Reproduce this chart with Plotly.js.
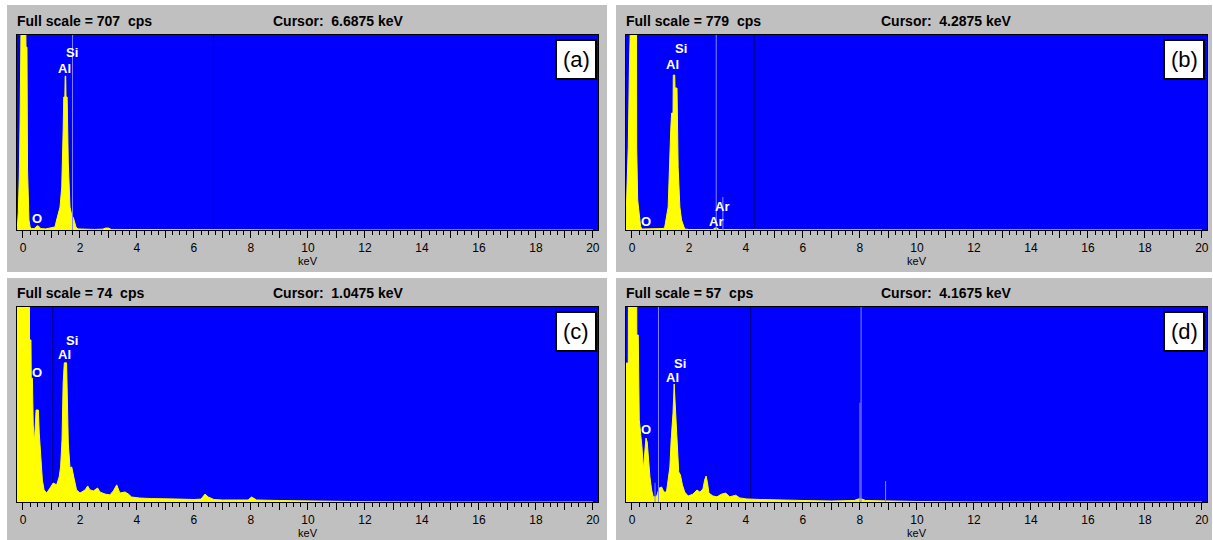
<!DOCTYPE html>
<html><head><meta charset="utf-8">
<script src="https://cdn.plot.ly/plotly-3.0.1.min.js"></script>
<style>html,body{margin:0;padding:0;background:#fff}#chart{width:1213px;height:540px}</style>
</head><body><div id="chart"></div>
<script>
// ---------- DATA ----------
const panelLetters = ['(a)', '(b)', '(c)', '(d)'];
const fullScale = [707, 779, 74, 57];          // cps
const cursorKeV = [6.6875, 4.2875, 1.0475, 4.1675];

const tickValues = [0,1,2,3,4,5,6,7,8,9,10,11,12,13,14,15,16,17,18,19,20];
const tickText   = ['0','','2','','4','','6','','8','','10','','12','','14','','16','','18','','20'];

// spectrum (a)
const energyA = [-0.21,-0.2,-0.165,-0.13,-0.1,-0.07,0.1,0.105,0.14,0.16,0.21,0.25,0.3,0.4,0.45,0.5,0.56,0.62,0.8,0.95,1.12,1.2,1.3,1.36,1.39,1.41,1.43,1.47,1.48,1.5,1.51,1.55,1.59,1.65,1.71,1.77,1.86,1.93,2.5,2.8,2.9,3.0,3.1,4.0,6.0,10.0,20.0];
const countsA = [0,7,62,192,410,725,725,663,663,218,36,11,5,5,11,15,13,5,4,6,11,44,83,156,243,363,482,482,558,558,482,482,243,83,54,44,11,4,2,3,7,7,2,1,1,0,0];
// spectrum (b)
const energyB = [-0.23,-0.22,-0.185,-0.13,-0.09,-0.06,0.16,0.165,0.2,0.25,0.3,0.34,0.5,0.8,1.0,1.095,1.15,1.27,1.36,1.39,1.44,1.45,1.5,1.51,1.58,1.62,1.68,1.74,1.85,2.0,2.85,2.9,3.0,3.05,4.0,10.0,20.0];
const countsB = [0,4,132,332,647,800,800,332,120,68,16,4,4,3,4,6,12,92,400,467,467,619,619,567,567,250,92,40,4,2,2,8,8,2,1,0,0];
// spectrum (c)
const energyC = [-0.21,0.22,0.23,0.28,0.29,0.33,0.36,0.4,0.46,0.54,0.57,0.62,0.68,0.74,0.83,0.95,1.06,1.18,1.27,1.32,1.37,1.41,1.45,1.53,1.54,1.59,1.65,1.71,1.79,1.88,2.0,2.18,2.27,2.35,2.47,2.62,2.7,2.88,3.05,3.17,3.29,3.4,3.58,3.7,3.81,4.1,4.5,5.0,5.5,6.0,6.25,6.39,6.5,6.7,7.0,7.5,7.9,8.02,8.2,9.0,10.0,11.0,12.0,14.0,20.0];
const countsC = [100,100,61.5,61.5,47,47,29.2,22.4,34.9,34.9,26.2,17.1,8.3,4.6,3.4,5.3,7.2,6.5,9.5,13.3,23.5,45.2,52.8,52.8,45.2,22.4,12.9,13.3,9.1,4.6,3.4,4.6,6.1,4.6,4.2,5.3,3.8,3.0,2.7,4.2,6.5,3.4,3.8,3.0,1.9,1.5,1.3,1.3,1.1,0.95,1.1,3.0,1.9,0.95,0.76,0.76,0.76,1.9,0.76,0.57,0.38,0.19,0.11,0,0];
// spectrum (d)
const energyD = [-0.21,-0.13,-0.125,0.165,0.17,0.22,0.255,0.3,0.35,0.4,0.44,0.49,0.535,0.58,0.63,0.69,0.745,0.86,0.955,1.04,1.12,1.21,1.28,1.33,1.375,1.44,1.48,1.53,1.56,1.6,1.64,1.7,1.77,1.85,1.97,2.14,2.28,2.38,2.49,2.55,2.6,2.65,2.7,2.84,2.98,3.14,3.29,3.43,3.64,3.78,4.01,4.5,5.0,6.0,7.0,7.8,7.95,8.05,8.2,9.0,10.0,12.0,20.0];
const countsD = [40.6,40.6,60,60,48.8,48.8,24,20.2,16.1,9.4,15.2,18.7,17.5,12.3,7.3,3.5,1.5,1.5,4.1,4.4,2.9,2.9,6.4,10.2,18.1,26,34.5,26,24,15.2,8.8,7.9,5.0,2.9,1.75,2.3,3.5,2.9,3.8,6.4,7.6,5.6,2.6,1.75,1.5,2.3,2.6,1.5,2.0,1.2,0.9,0.73,0.58,0.44,0.29,0.44,0.9,0.9,0.44,0.29,0.15,0,0];

// KLM marker lines (keV, height in cps)
const klmEnergyA = [1.74];               const klmHeightA = [707];
const klmEnergyB = [2.957, 3.19];        const klmHeightB = [779, 132];
const klmEnergyC = [];                   const klmHeightC = [];
const klmEnergyD = [0.81, 0.93, 8.0, 8.04, 8.9]; const klmHeightD = [5.6, 57, 29, 57, 6.1];

// element labels
const labelTextA = ['Si','Al','O'];           const labelKeVA = [1.72,1.44,0.49];           const labelCpsA = [642,587,43];
const labelTextB = ['Si','Al','O','Ar','Ar']; const labelKeVB = [1.71,1.43,0.49,3.15,2.94]; const labelCpsB = [727,663,32,92,32];
const labelTextC = ['Si','Al','O'];           const labelKeVC = [1.72,1.44,0.49];           const labelCpsC = [61.1,55.8,49];
const labelTextD = ['Si','Al','O'];           const labelKeVD = [1.68,1.43,0.49];           const labelCpsD = [40.6,36.5,21.3];

// ---------- BUILD ----------
const W = 1213, H = 540;
const FONT = 'Liberation Sans, Arial, sans-serif';
const spectra = [[energyA,countsA],[energyB,countsB],[energyC,countsC],[energyD,countsD]];
const klms = [[klmEnergyA,klmHeightA],[klmEnergyB,klmHeightB],[klmEnergyC,klmHeightC],[klmEnergyD,klmHeightD]];
const labels = [[labelTextA,labelKeVA,labelCpsA],[labelTextB,labelKeVB,labelCpsB],[labelTextC,labelKeVC,labelCpsC],[labelTextD,labelKeVD,labelCpsD]];

// plot-area boxes in pixels
const boxes = [{l:17,r:598,t:35,b:230},{l:626,r:1207,t:35,b:230},{l:17,r:598,t:307,b:502},{l:626,r:1207,t:307,b:502}];
const headerPos = [{x:15,cx:271,y:21},{x:624,cx:879,y:21},{x:15,cx:271,y:293},{x:624,cx:879,y:293}];
const letterBox = [{l:556,r:596,t:40,b:79},{l:1164,r:1204,t:40,b:79},{l:556,r:596,t:312,b:351},{l:1164,r:1204,t:312,b:351}];

const px = x => x / W, py = y => 1 - y / H;
const traces = [], annotations = [], shapes = [];
const layout = {
  width: W, height: H, margin: {l:0,r:0,t:0,b:0},
  paper_bgcolor: '#c0c0c0', plot_bgcolor: '#0000ff',
  showlegend: false, font: {family: FONT, color: '#000'}
};

// white gaps between the grey panels
[[0,0,W,5],[0,0,7,H],[607,0,616,H],[0,272,W,278],[1212,0,W,H]].forEach(r => {
  shapes.push({type:'rect', xref:'paper', yref:'paper', x0:px(r[0]), x1:px(r[2]), y0:py(r[3]), y1:py(r[1]),
    fillcolor:'#ffffff', line:{width:0}, layer:'below'});
});

for (let i = 0; i < 4; i++) {
  const s = i === 0 ? '' : String(i + 1);
  const xa = 'x' + s, ya = 'y' + s;
  const b = boxes[i];
  layout['xaxis' + s] = {
    domain: [px(b.l), px(b.r)], range: [-0.21, 20.18], anchor: ya,
    tickmode: 'array', tickvals: tickValues, ticktext: tickText,
    ticks: 'outside', ticklen: 7, tickwidth: 1, tickcolor: '#000',
    minor: {tickmode:'linear', tick0:0, dtick:0.25, ticks:'outside', ticklen:4, tickwidth:1, tickcolor:'#000', showgrid:false},
    showgrid: false, zeroline: false, showline: true, linecolor: '#000', linewidth: 1, mirror: true,
    tickfont: {family: FONT, size: 12, color: '#000'},
    title: {text: 'keV', font: {family: FONT, size: 11, color: '#000'}, standoff: 1},
    fixedrange: true
  };
  layout['yaxis' + s] = {
    domain: [py(b.b), py(b.t)], range: [0, fullScale[i]], anchor: xa,
    showline: true, mirror: true, linecolor: '#000', linewidth: 1,
    ticks: '', showticklabels: false, showgrid: false, zeroline: false, fixedrange: true
  };

  // cursor line
  traces.push({type:'scatter', mode:'lines', x:[cursorKeV[i], cursorKeV[i]], y:[0, fullScale[i]],
    xaxis:xa, yaxis:ya, line:{color:'#000070', width:1}, hoverinfo:'skip'});
  // spectrum
  traces.push({type:'scatter', mode:'lines', x:spectra[i][0], y:spectra[i][1], xaxis:xa, yaxis:ya,
    fill:'tozeroy', fillcolor:'#ffff00', line:{color:'#ffff00', width:1}, hoverinfo:'x+y'});
  // KLM markers
  const kx = [], ky = [];
  klms[i][0].forEach((e, k) => { kx.push(e, e, null); ky.push(0, klms[i][1][k], null); });
  if (kx.length) traces.push({type:'scatter', mode:'lines', x:kx, y:ky, xaxis:xa, yaxis:ya,
    line:{color:'#8484ff', width:1}, hoverinfo:'skip'});

  // element labels
  labels[i][0].forEach((t, k) => annotations.push({text:t, x:labels[i][1][k], y:labels[i][2][k], xref:xa, yref:ya,
    showarrow:false, xanchor:'center', yanchor:'middle', font:{family:FONT, size:13, color:'#ffffff', weight:'bold'}}));

  // header
  const hp = headerPos[i];
  annotations.push({text:'Full scale = ' + fullScale[i] + '\u00a0\u00a0cps', xref:'paper', yref:'paper',
    x:px(hp.x), y:py(hp.y), xanchor:'left', yanchor:'middle', showarrow:false,
    font:{family:FONT, size:14, color:'#000', weight:'bold'}});
  annotations.push({text:'Cursor:\u00a0\u00a0' + cursorKeV[i].toFixed(4) + ' keV', xref:'paper', yref:'paper',
    x:px(hp.cx), y:py(hp.y), xanchor:'left', yanchor:'middle', showarrow:false,
    font:{family:FONT, size:14, color:'#000', weight:'bold'}});

  // panel letter box
  const lb = letterBox[i];
  shapes.push({type:'rect', xref:'paper', yref:'paper', x0:px(lb.l), x1:px(lb.r), y0:py(lb.b), y1:py(lb.t),
    fillcolor:'#ffffff', line:{color:'#000', width:2}, layer:'above'});
  annotations.push({text:panelLetters[i], xref:'paper', yref:'paper', x:px((lb.l+lb.r)/2), y:py((lb.t+lb.b)/2),
    xanchor:'center', yanchor:'middle', showarrow:false, font:{family:FONT, size:22, color:'#000'}});
}
layout.shapes = shapes;
layout.annotations = annotations;

Plotly.newPlot('chart', traces, layout, {displayModeBar:false, staticPlot:true});
</script>
</body></html>
